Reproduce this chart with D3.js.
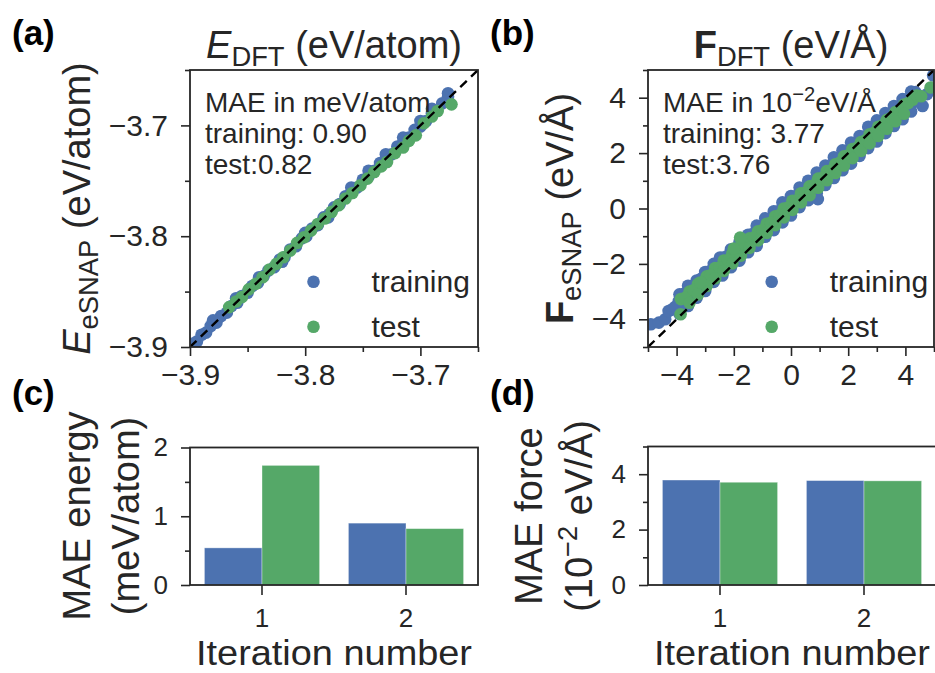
<!DOCTYPE html>
<html>
<head>
<meta charset="utf-8">
<script src="https://cdn.jsdelivr.net/npm/d3@7"></script>
<style>
  html, body { margin: 0; padding: 0; background: #fff; }
  svg { display: block; font-family: "Liberation Sans", Arial, Helvetica, sans-serif; }
  text { white-space: pre; }
</style>
</head>
<body>
<svg id="fig" width="935" height="673"></svg>
<script>
// ---- energies per atom: [DFT, eSNAP] in eV/atom ----
const energyTrain = [
  [-3.898,-3.897],[-3.894,-3.895],[-3.890,-3.889],[-3.886,-3.887],[-3.882,-3.881],[-3.877,-3.878],
  [-3.873,-3.872],[-3.868,-3.869],[-3.864,-3.863],[-3.859,-3.860],[-3.855,-3.854],[-3.850,-3.851],
  [-3.846,-3.845],[-3.841,-3.842],[-3.836,-3.836],[-3.832,-3.831],[-3.827,-3.828],[-3.822,-3.821],
  [-3.818,-3.819],[-3.813,-3.812],[-3.808,-3.809],[-3.803,-3.802],[-3.799,-3.800],[-3.794,-3.793],
  [-3.789,-3.790],[-3.784,-3.783],[-3.779,-3.780],[-3.775,-3.774],[-3.770,-3.771],[-3.765,-3.764],
  [-3.760,-3.761],[-3.755,-3.756],[-3.750,-3.749],[-3.745,-3.746],[-3.740,-3.741],[-3.735,-3.734],
  [-3.730,-3.731],[-3.725,-3.726],[-3.720,-3.719],[-3.715,-3.716],[-3.710,-3.711],[-3.705,-3.704],
  [-3.700,-3.701],[-3.695,-3.696],[-3.690,-3.689],[-3.686,-3.687],[-3.681,-3.680],[-3.676,-3.674],
  [-3.880,-3.876],[-3.860,-3.856],[-3.840,-3.837],[-3.820,-3.823],[-3.800,-3.797],[-3.780,-3.783],
  [-3.760,-3.756],[-3.745,-3.741],[-3.730,-3.726],[-3.715,-3.711],[-3.700,-3.696],[-3.690,-3.685],
  [-3.676,-3.671]
];
const energyTest = [
  [-3.866,-3.864],[-3.860,-3.859],[-3.855,-3.855],[-3.849,-3.848],[-3.843,-3.843],[-3.837,-3.837],
  [-3.831,-3.830],[-3.825,-3.825],[-3.819,-3.819],[-3.813,-3.813],[-3.807,-3.806],[-3.801,-3.801],
  [-3.795,-3.795],[-3.789,-3.789],[-3.783,-3.784],[-3.777,-3.778],[-3.771,-3.772],[-3.765,-3.766],
  [-3.759,-3.761],[-3.752,-3.754],[-3.746,-3.748],[-3.740,-3.742],[-3.734,-3.737],[-3.729,-3.733],
  [-3.722,-3.725],[-3.715,-3.720],[-3.710,-3.714],[-3.704,-3.709],[-3.697,-3.698],[-3.690,-3.692],
  [-3.685,-3.687],[-3.673,-3.681]
];

// ---- force components: [DFT, eSNAP] in eV/Å ----
const forceTrain = [
  [-4.90,-4.18],[-4.62,-4.12],[-4.40,-4.00],[-4.28,-3.70],[-4.15,-3.64],[-3.92,-3.34],
  [-3.90,-3.10],[-3.60,-2.79],[-3.30,-2.60],[-3.00,-2.29],[-2.70,-2.00],[-2.40,-1.78],[-2.10,-1.47],
  [-1.80,-1.20],[-1.50,-0.95],[-1.20,-0.62],[-0.90,-0.35],[-0.60,-0.10],[-0.30,0.22],[0.00,0.45],
  [0.30,0.76],[0.60,1.00],[0.90,1.30],[1.20,1.55],[1.50,1.85],[1.80,2.10],[2.10,2.38],[2.40,2.62],
  [2.70,2.95],[3.00,3.18],[3.30,3.45],[3.60,3.70],[3.90,3.95],[4.20,4.22],
  [-3.75,-3.08],[-3.45,-2.80],[-3.15,-2.54],[-2.85,-2.27],[-2.55,-1.99],[-2.25,-1.73],[-1.95,-1.45],
  [-1.65,-1.19],[-1.35,-0.92],[-1.05,-0.64],[-0.75,-0.38],[-0.45,-0.10],[-0.15,0.17],[0.15,0.44],
  [0.45,0.70],[0.75,0.98],[1.05,1.24],[1.35,1.52],[1.65,1.78],[1.95,2.06],[2.25,2.32],[2.55,2.60],
  [2.85,2.86],[3.15,3.14],[3.45,3.40],[3.75,3.68],[4.05,3.94],[4.35,4.20],
  [-4.05,-3.55],[-3.75,-3.25],[-3.45,-2.98],[-3.15,-2.70],[-2.85,-2.42],[-2.55,-2.18],[-2.25,-1.90],
  [-1.95,-1.62],[-1.65,-1.38],[-1.35,-1.08],[-1.05,-0.82],[-0.75,-0.55],[-0.45,-0.30],[-0.15,0.00],
  [0.15,0.25],[0.45,0.52],[0.75,0.80],[1.05,1.05],[1.35,1.35],[1.65,1.60],[1.95,1.88],[2.25,2.12],
  [2.55,2.42],[2.85,2.68],[3.15,2.95],[3.45,3.22],[3.75,3.50],[4.05,3.78],[4.35,4.02],
  [-3.75,-3.44],[-3.45,-3.16],[-3.15,-2.90],[-2.85,-2.62],[-2.55,-2.36],[-2.25,-2.08],[-1.95,-1.82],
  [-1.65,-1.54],[-1.35,-1.28],[-1.05,-1.00],[-0.75,-0.74],[-0.45,-0.46],[-0.15,-0.20],[0.15,0.08],
  [0.45,0.34],[0.75,0.62],[1.05,0.88],[1.35,1.16],[1.65,1.42],[1.95,1.70],[2.25,1.96],[2.55,2.24],
  [2.85,2.50],[3.15,2.78],[3.45,3.04],[3.75,3.32],[4.05,3.58],[4.35,3.86],
  [-3.90,-3.80],[-3.60,-3.52],[-3.30,-3.22],[-3.00,-2.98],[-2.70,-2.65],[-2.40,-2.42],[-2.10,-2.12],
  [-1.80,-1.88],[-1.50,-1.58],[-1.20,-1.35],[-0.90,-1.02],[-0.60,-0.78],[-0.30,-0.50],[0.00,-0.25],
  [0.30,0.05],[0.60,0.30],[0.90,0.55],[1.20,0.85],[1.50,1.10],[1.80,1.38],[2.10,1.62],[2.40,1.90],
  [2.70,2.18],[3.00,2.42],[3.30,2.72],[3.60,2.98],[3.90,3.22],[4.20,3.50],
  [-2.53,-2.00],[-2.48,-1.77],[0.94,0.34],[4.47,4.07],[4.60,3.70],[4.76,4.13],[4.97,4.80]
];
const forceTest = [
  [-3.86,-3.82],[-3.85,-3.27],[-3.55,-3.00],[-3.25,-2.72],[-2.95,-2.45],[-2.65,-2.15],[-2.35,-1.88],
  [-2.05,-1.62],[-1.75,-1.35],[-1.45,-1.08],[-1.15,-0.82],[-0.85,-0.55],[-0.55,-0.28],[-0.25,0.00],
  [0.05,0.28],[0.35,0.55],[0.65,0.80],[0.95,1.08],[1.25,1.35],[1.55,1.60],[1.85,1.88],[2.15,2.15],
  [2.45,2.40],[2.75,2.68],[3.05,2.95],[3.35,3.20],[3.65,3.48],[3.95,3.75],[4.25,3.92],
  [-3.70,-3.22],[-3.40,-2.94],[-3.10,-2.68],[-2.80,-2.40],[-2.50,-2.13],[-2.20,-1.86],[-1.90,-1.59],
  [-1.60,-1.32],[-1.30,-1.05],[-1.00,-0.78],[-0.70,-0.51],[-0.40,-0.24],[-0.10,0.03],[0.20,0.30],
  [0.50,0.57],[0.80,0.84],[1.10,1.11],[1.40,1.38],[1.70,1.65],[2.00,1.92],[2.30,2.19],[2.60,2.46],
  [2.90,2.73],[3.20,3.00],[3.50,3.27],[3.80,3.54],[4.10,3.81],[4.40,4.08],
  [-3.55,-3.40],[-3.25,-3.10],[-2.95,-2.80],[-2.65,-2.52],[-2.35,-2.25],[-2.05,-1.98],[-1.75,-1.70],
  [-1.45,-1.42],[-1.15,-1.15],[-0.85,-0.88],[-0.55,-0.60],[-0.25,-0.32],[0.05,-0.05],[0.35,0.22],
  [0.65,0.48],[0.95,0.75],[1.25,1.02],[1.55,1.28],[1.85,1.55],[2.15,1.82],[2.45,2.08],[2.75,2.35],
  [3.05,2.62],[3.35,2.88],[3.65,3.15],[3.95,3.42],
  [-1.78,-1.05],[-3.17,-2.67],[-2.00,-1.45],[4.55,4.05],[4.88,4.37]
];

// ---- MAE per fitting iteration ----
const iterations = ["1", "2"];
const maeEnergyTrain = [0.54, 0.90];   // meV/atom
const maeEnergyTest  = [1.74, 0.82];
const maeForceTrain  = [3.79, 3.77];   // 10^-2 eV/Å
const maeForceTest   = [3.71, 3.76];

// ---- axis ticks ----
const energyMajorTicks = [-3.9, -3.8, -3.7];
const energyMinorTicks = [-3.85, -3.75, -3.65];
const forceMajorTicks  = [-4, -2, 0, 2, 4];
const forceMinorTicks  = [-5, -3, -1, 1, 3, 5];
const maeEnergyMajor   = [0, 1, 2];
const maeEnergyMinor   = [0.5, 1.5];
const maeForceMajor    = [0, 2, 4];
const maeForceMinor    = [1, 3, 5];

const seriesNames = ["training", "test"];
const colors = { training: "#4C72B0", test: "#55A868" };
const ink = "#262626";
const dotR = 6.3;

const svg = d3.select("#fig");

// panel boxes in pixels
const boxA = { x0: 190, x1: 478, y0: 70, y1: 347 };
const boxB = { x0: 648, x1: 934, y0: 70, y1: 347 };
const boxC = { x0: 190, x1: 478, y0: 447.5, y1: 585 };
const boxD = { x0: 648, x1: 936, y0: 446.5, y1: 585 };

// text with sub/superscript runs
function richText(sel, parts, fs) {
  let shift = 0;
  parts.forEach(p => {
    const ts = sel.append("tspan").text(p.t);
    const target = p.sub ? 0.2 * fs : p.sup ? -0.4 * fs : 0;
    ts.attr("dy", target - shift);
    shift = target;
    if (p.sub || p.sup) ts.attr("font-size", fs * 0.72);
    if (p.italic) ts.attr("font-style", "italic");
    if (p.bold) ts.attr("font-weight", "bold");
  });
  return sel;
}

function styleAxis(g, fs) {
  g.select(".domain").remove();
  g.selectAll(".tick line").attr("stroke", ink).attr("stroke-width", 1.6);
  g.selectAll(".tick text").attr("fill", ink).attr("font-size", fs)
    .attr("font-family", "Liberation Sans, Arial, sans-serif");
}

function frame(box) {
  svg.append("rect")
    .attr("x", box.x0).attr("y", box.y0)
    .attr("width", box.x1 - box.x0).attr("height", box.y1 - box.y0)
    .attr("fill", "none").attr("stroke", ink).attr("stroke-width", 1.8);
}

function clipFor(id, box) {
  svg.append("clipPath").attr("id", id).append("rect")
    .attr("x", box.x0).attr("y", box.y0)
    .attr("width", box.x1 - box.x0).attr("height", box.y1 - box.y0);
}

// ---------- parity panels ----------
function parityPanel(box, domain, train, test, major, minor, fmt, id) {
  const x = d3.scaleLinear().domain(domain).range([box.x0, box.x1]);
  const y = d3.scaleLinear().domain(domain).range([box.y1, box.y0]);
  clipFor(id, box);
  const g = svg.append("g").attr("clip-path", `url(#${id})`);
  g.selectAll("circle.tr").data(train).join("circle").attr("class", "tr")
    .attr("cx", d => x(d[0])).attr("cy", d => y(d[1])).attr("r", dotR)
    .attr("fill", colors.training);
  g.selectAll("circle.te").data(test).join("circle").attr("class", "te")
    .attr("cx", d => x(d[0])).attr("cy", d => y(d[1])).attr("r", dotR)
    .attr("fill", colors.test);
  g.append("line")
    .attr("x1", x(domain[0])).attr("y1", y(domain[0]))
    .attr("x2", x(domain[1])).attr("y2", y(domain[1]))
    .attr("stroke", "#000").attr("stroke-width", 2.4).attr("stroke-dasharray", "9,6");

  const fs = 30;
  svg.append("g").attr("transform", `translate(0,${box.y1})`)
    .call(d3.axisBottom(x).tickValues(major).tickSize(9).tickPadding(8).tickFormat(fmt))
    .call(a => styleAxis(a, fs));
  svg.append("g").attr("transform", `translate(0,${box.y1})`)
    .call(d3.axisBottom(x).tickValues(minor).tickSize(5).tickFormat(""))
    .call(a => styleAxis(a, fs));
  svg.append("g").attr("transform", `translate(${box.x0},0)`)
    .call(d3.axisLeft(y).tickValues(major).tickSize(9).tickPadding(13).tickFormat(fmt))
    .call(a => styleAxis(a, fs));
  svg.append("g").attr("transform", `translate(${box.x0},0)`)
    .call(d3.axisLeft(y).tickValues(minor).tickSize(5).tickFormat(""))
    .call(a => styleAxis(a, fs));
  frame(box);
  return { x, y };
}

parityPanel(boxA, [-3.9, -3.65], energyTrain, energyTest,
  energyMajorTicks, energyMinorTicks, d3.format(".1f"), "clipA");
parityPanel(boxB, [-5, 5], forceTrain, forceTest,
  forceMajorTicks, forceMinorTicks, d3.format("d"), "clipB");

// MAE annotations and legends for parity panels
function annotate(box, lines, legendX) {
  const fs = 28;
  lines.forEach((parts, i) => {
    const t = svg.append("text").attr("x", box.x0 + 15).attr("y", 112 + i * 31)
      .attr("font-size", fs).attr("fill", ink);
    richText(t, parts, fs);
  });
  seriesNames.forEach((name, i) => {
    const cy = 281.7 + i * 45;
    svg.append("circle").attr("cx", legendX).attr("cy", cy).attr("r", dotR)
      .attr("fill", colors[name]);
    svg.append("text").attr("x", legendX + 58).attr("y", cy + 10.5)
      .attr("font-size", 30).attr("fill", ink).text(name);
  });
}
annotate(boxA, [
  [{ t: "MAE in meV/atom" }],
  [{ t: "training: " + maeEnergyTrain[1].toFixed(2) }],
  [{ t: "test:" + maeEnergyTest[1].toFixed(2) }]
], 313.5);
annotate(boxB, [
  [{ t: "MAE in 10" }, { t: "\u22122", sup: true }, { t: "eV/Å" }],
  [{ t: "training: " + maeForceTrain[1].toFixed(2) }],
  [{ t: "test:" + maeForceTest[1].toFixed(2) }]
], 771.7);

// titles
richText(svg.append("text").attr("x", (boxA.x0 + boxA.x1) / 2).attr("y", 58)
  .attr("text-anchor", "middle").attr("font-size", 38).attr("fill", ink),
  [{ t: "E", italic: true }, { t: "DFT", sub: true }, { t: " (eV/atom)" }], 38);
richText(svg.append("text").attr("x", (boxB.x0 + boxB.x1) / 2).attr("y", 58)
  .attr("text-anchor", "middle").attr("font-size", 38).attr("fill", ink),
  [{ t: "F", bold: true }, { t: "DFT", sub: true }, { t: " (eV/Å)" }], 38);

// rotated y labels
function yLabel(cx, cy, parts, fs) {
  const t = svg.append("text").attr("transform", `translate(${cx},${cy}) rotate(-90)`)
    .attr("text-anchor", "middle").attr("font-size", fs).attr("fill", ink);
  richText(t, parts, fs);
}
yLabel(90, (boxA.y0 + boxA.y1) / 2,
  [{ t: "E", italic: true }, { t: "eSNAP", sub: true }, { t: " (eV/atom)" }], 38);
yLabel(573, (boxB.y0 + boxB.y1) / 2,
  [{ t: "F", bold: true }, { t: "eSNAP", sub: true }, { t: " (eV/Å)" }], 38);

// ---------- MAE bar panels ----------
function barPanel(box, yMax, train, test, major, minor, id) {
  const x = d3.scaleBand().domain(iterations).range([box.x0, box.x1])
    .paddingInner(0.2).paddingOuter(0.1);
  const xs = d3.scaleBand().domain(seriesNames).range([0, x.bandwidth()]);
  const y = d3.scaleLinear().domain([0, yMax]).range([box.y1, box.y0]);
  clipFor(id, box);
  const rows = iterations.map((it, i) => ({ it, training: train[i], test: test[i] }));
  const g = svg.append("g").attr("clip-path", `url(#${id})`);
  rows.forEach(r => {
    seriesNames.forEach(s => {
      g.append("rect")
        .attr("x", x(r.it) + xs(s)).attr("width", xs.bandwidth())
        .attr("y", y(r[s])).attr("height", y(0) - y(r[s]))
        .attr("fill", colors[s]).attr("stroke", "#fff").attr("stroke-opacity", 0.45)
        .attr("stroke-width", 0.8);
    });
  });
  const fs = 26;
  svg.append("g").attr("transform", `translate(0,${box.y1})`)
    .call(d3.axisBottom(x).tickSize(10).tickPadding(14))
    .call(a => styleAxis(a, fs));
  svg.append("g").attr("transform", `translate(${box.x0},0)`)
    .call(d3.axisLeft(y).tickValues(major).tickSize(9).tickPadding(13).tickFormat(d3.format("d")))
    .call(a => styleAxis(a, fs));
  svg.append("g").attr("transform", `translate(${box.x0},0)`)
    .call(d3.axisLeft(y).tickValues(minor).tickSize(5).tickFormat(""))
    .call(a => styleAxis(a, fs));
  frame(box);
  svg.append("text").attr("x", (box.x0 + box.x1) / 2).attr("y", 665)
    .attr("text-anchor", "middle").attr("font-size", 35).attr("fill", ink)
    .attr("textLength", 276).attr("lengthAdjust", "spacingAndGlyphs")
    .text("Iteration number");
}
barPanel(boxC, 2, maeEnergyTrain, maeEnergyTest, maeEnergyMajor, maeEnergyMinor, "clipC");
barPanel(boxD, 5, maeForceTrain, maeForceTest, maeForceMajor, maeForceMinor, "clipD");

yLabel(90, 516, [{ t: "MAE energy" }], 38);
yLabel(139, 516, [{ t: "(meV/atom)" }], 38);
yLabel(542, 516, [{ t: "MAE force" }], 38);
yLabel(592, 516, [{ t: "(10" }, { t: "\u22122", sup: true }, { t: " eV/Å)" }], 38);

// panel letters
[["(a)", 12, 45], ["(b)", 490, 45], ["(c)", 12, 405], ["(d)", 490, 405]].forEach(([s, px, py]) => {
  svg.append("text").attr("x", px).attr("y", py).attr("font-size", 35)
    .attr("font-weight", "bold").attr("fill", "#000").text(s);
});
</script>
</body>
</html>
